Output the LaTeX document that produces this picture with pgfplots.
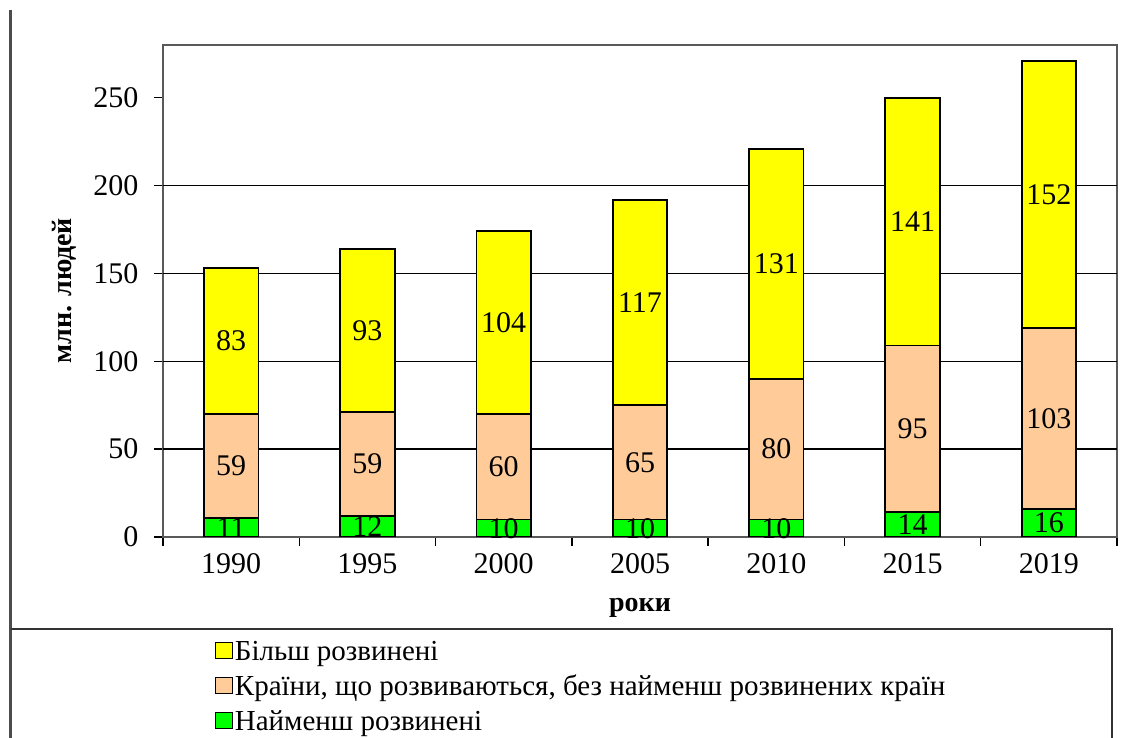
\documentclass[border=0pt]{standalone}
\usepackage{fontspec}
\setmainfont{Liberation Serif}
\usepackage{pgfplots}
\pgfplotsset{compat=1.18}
\usepackage{pgfplotstable}

\definecolor{cyel}{RGB}{255,255,0}
\definecolor{cpeach}{RGB}{255,204,153}
\definecolor{cgreen}{RGB}{0,255,0}
\newcommand\fs{\fontsize{30}{34}\selectfont}
\newcommand\fl{\fontsize{29}{33}\selectfont}
\newcommand\fy{\fontsize{28}{32}\selectfont}

\pgfplotstableread{
x v
0 11
1 12
2 10
3 10
4 10
5 14
6 16
}\least
\pgfplotstableread{
x v
0 59
1 59
2 60
3 65
4 80
5 95
6 103
}\developing
\pgfplotstableread{
x v
0 83
1 93
2 104
3 117
4 131
5 141
6 152
}\more

\begin{document}
\begin{tikzpicture}
\useasboundingbox (0,0) rectangle (1140pt,738pt);
\fill[white] (0,0) rectangle (1140pt,738pt);
\draw[gray!60!black, line width=3pt] (10pt,0) -- (10pt,728pt);
\draw[black!80, line width=1.5pt] (11pt,109pt) -- (1112pt,109pt) -- (1112pt,0);
\begin{axis}[
  at={(163pt,201pt)}, anchor=south west,
  scale only axis, width=954pt, height=492pt,
  ybar stacked, bar width=0.4,
  xmin=-0.5, xmax=6.5, ymin=0, ymax=280,
  /pgf/number format/assume math mode=true,
  axis line style={gray!70!black, line width=1.5pt},
  tick align=outside, major tick length=9pt,
  every tick/.style={black, line width=1.5pt},
  xtick={-0.5,0.5,...,6.5}, xticklabels={},
  extra x ticks={0,...,6},
  extra x tick labels={1990,1995,2000,2005,2010,2015,2019},
  extra x tick style={major tick length=0pt, tick label style={yshift=-13pt}},
  xtick pos=lower, ytick pos=left,
  ytick={0,50,...,250},
  yticklabel style={xshift=-12pt},
  extra y ticks={50,100,150,200}, extra y tick labels={},
  extra y tick style={grid=major, major tick length=0pt},
  major grid style={black, line width=1.5pt},
  tick label style={font=\fs},
  ylabel={\textbf{млн. людей}},
  ylabel style={font=\fy, at={(axis description cs:-0.103,0.5)}, anchor=center},
  xlabel={\textbf{роки}},
  xlabel style={font=\fy, at={(axis description cs:0.5,-0.145)}, anchor=center},
  nodes near coords,
  every node near coord/.append style={anchor=center, font=\fs},
  reverse legend,
  legend cell align=left,
  legend style={at={(axis description cs:0.054,-0.208)}, anchor=north west,
    draw=none, fill=none, font=\fl, row sep=9pt, inner sep=0pt,
    /tikz/every even column/.append style={column sep=3pt}},
  legend image code/.code={\draw[#1, line width=1.2pt] (0pt,-7pt) rectangle (17pt,9pt);},
]
\addplot[fill=cgreen, draw=black, line width=1.8pt, point meta=explicit]
  table[x=x, y=v, meta=v] {\least};
\addplot[fill=cpeach, draw=black, line width=1.8pt, point meta=explicit]
  table[x=x, y=v, meta=v] {\developing};
\addplot[fill=cyel, draw=black, line width=1.8pt, point meta=explicit]
  table[x=x, y=v, meta=v] {\more};
\legend{Найменш розвинені, {Країни, що розвиваються, без найменш розвинених країн}, Більш розвинені}
\end{axis}
\end{tikzpicture}
\end{document}
